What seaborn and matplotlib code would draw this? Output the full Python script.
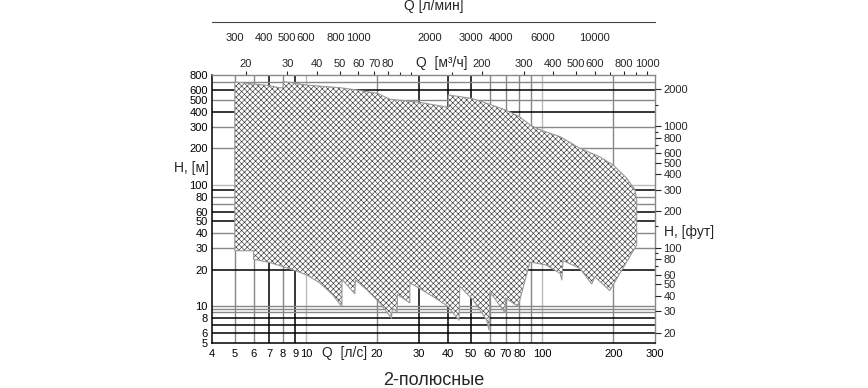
import matplotlib
matplotlib.use('Agg')
import matplotlib.pyplot as plt
import seaborn as sns
import pandas as pd
from matplotlib.ticker import FixedLocator, FixedFormatter, NullFormatter

# envelope of the 2-pole pump range: Q [l/s], H [m], clockwise from top-left
env_q = [5, 6, 7, 7.7, 8.0, 8.0, 9, 10, 13.9, 16.4, 20, 22.7, 30, 40, 40, 50, 60, 70, 80, 90,
         100, 119, 144, 175, 200, 228, 247, 251, 251,
         193, 167, 162, 144, 122.4, 121, 119, 104, 88.7, 79, 70, 69.5, 60, 59.5, 58.2, 51,
         44.8, 44.4, 39.9, 34.6, 30.2, 27.5, 27.5, 24.4, 24.3, 23.2, 23.0, 20.6, 18.1, 16.2,
         16.1, 14.2, 14.2, 13.0, 11.5, 10.1, 9, 8, 7, 6, 6, 5]
env_h = [700, 674, 654, 629, 629, 705, 684, 662, 629, 602, 566, 505, 478, 434, 548, 515, 459, 412, 363, 305,
         279, 249, 200, 170, 145, 113, 90.6, 75, 32,
         13.5, 17.5, 15.3, 20.6, 23.8, 16.5, 18.7, 21.9, 23.2, 10.0, 11.7, 8.9, 13.2, 6.4, 7.7, 11.3,
         14.6, 7.7, 10.0, 12.0, 14.1, 15.6, 10.7, 12.5, 9.0, 9.7, 8.0, 10.6, 13.7, 16.5,
         12.7, 16.7, 9.9, 12.4, 15.5, 18.1, 19.7, 21.2, 23.0, 24.4, 28.7, 28.7]

# grid lines
vgrid_dark = [7, 9, 30, 40, 50]
vgrid_grey = [5, 6, 8, 20, 60, 70, 80, 90, 200]
vgrid_light = [10, 100]
hgrid_dark = [600, 400, 90, 60, 50, 20, 8, 7, 6]
hgrid_grey = [700, 500, 300, 200, 80, 70, 40, 30, 10, 9.5, 9]
hgrid_light = [100]

# tick labels
q_ls_ticks = [4, 5, 6, 7, 8, 9, 10, 20, 30, 40, 50, 60, 70, 80, 100, 200, 300]
h_m_ticks = [5, 6, 8, 10, 20, 30, 40, 50, 60, 80, 100, 200, 300, 400, 500, 600, 800]
h_ft_ticks = [20, 30, 40, 50, 60, 80, 100, 200, 300, 400, 500, 600, 800, 1000, 2000]
h_ft_minor = [70, 90, 150, 700, 900, 1500]
q_m3h_ticks = [20, 30, 40, 50, 60, 70, 80, 200, 300, 400, 500, 600, 800, 1000]
q_m3h_minor = [90, 100, 150, 700, 900]
q_lmin_ticks = [300, 400, 500, 600, 800, 1000, 2000, 3000, 4000, 6000, 10000]
q_lmin_minor = [350, 450, 700, 900, 1500, 5000, 7000, 8000, 9000, 15000]

sns.set_theme(style='white')
plt.rcParams['font.family'] = ['Liberation Sans', 'DejaVu Sans']
plt.rcParams['hatch.linewidth'] = 0.45
plt.rcParams['hatch.color'] = '#3a3a3a'

TICK = 8
LAB = 10

fig = plt.figure(figsize=(8.68, 3.88), dpi=100)
ax = fig.add_axes([0.2442, 0.116, 0.5104, 0.6907])
ax.set_xscale('log')
ax.set_yscale('log')
ax.set_xlim(4, 300)
ax.set_ylim(5, 800)

for v in vgrid_dark:
    ax.axvline(v, color='black', lw=1.1, zorder=1)
for v in vgrid_grey:
    ax.axvline(v, color='#888888', lw=1.0, zorder=1)
for v in vgrid_light:
    ax.axvline(v, color='#bbbbbb', lw=1.0, zorder=1)
for h in hgrid_dark:
    ax.axhline(h, color='black', lw=1.1, zorder=1)
for h in hgrid_grey:
    ax.axhline(h, color='#888888', lw=1.0, zorder=1)
for h in hgrid_light:
    ax.axhline(h, color='#bbbbbb', lw=1.0, zorder=1)

env = pd.DataFrame({'Q': env_q + env_q[:1], 'H': env_h + env_h[:1]})
ax.fill(env['Q'], env['H'], facecolor='white', hatch='xxxxxx', edgecolor='#3a3a3a', lw=0, zorder=2)
sns.lineplot(data=env, x='Q', y='H', sort=False, estimator=None, color='#999999', lw=0.8, ax=ax, zorder=3)

ax.xaxis.set_major_locator(FixedLocator(q_ls_ticks))
ax.xaxis.set_major_formatter(FixedFormatter([str(t) for t in q_ls_ticks]))
ax.xaxis.set_minor_formatter(NullFormatter())
ax.xaxis.set_minor_locator(FixedLocator([]))
ax.yaxis.set_major_locator(FixedLocator(h_m_ticks))
ax.yaxis.set_major_formatter(FixedFormatter([str(t) for t in h_m_ticks]))
ax.yaxis.set_minor_locator(FixedLocator([]))
ax.tick_params(axis='both', length=0, labelsize=TICK, pad=4, colors='black')
ax.tick_params(axis='y', pad=3)
ax.set_xlabel('Q  [л/с]', fontsize=LAB)
ax.xaxis.set_label_coords(0.3, -0.012)
ax.set_ylabel('H, [м]', fontsize=LAB, rotation=0)
ax.yaxis.set_label_coords(-0.047, 0.627)
for s in ['left', 'bottom']:
    ax.spines[s].set_color('black')
    ax.spines[s].set_linewidth(1.1)
for s in ['top', 'right']:
    ax.spines[s].set_color('#888888')
    ax.spines[s].set_linewidth(1.0)

# feet axis on the right
axr = ax.twinx()
axr.set_yscale('log')
axr.set_ylim(5 * 3.28084, 800 * 3.28084)
axr.yaxis.set_major_locator(FixedLocator(h_ft_ticks))
axr.yaxis.set_major_formatter(FixedFormatter([str(t) for t in h_ft_ticks]))
axr.yaxis.set_minor_locator(FixedLocator(h_ft_minor))
axr.yaxis.set_minor_formatter(NullFormatter())
axr.tick_params(axis='y', which='major', length=4, width=0.8, labelsize=TICK, pad=2, direction='out', right=True)
axr.tick_params(axis='y', which='minor', length=2.5, width=0.8, direction='out', right=True)
axr.set_ylabel('H, [фут]', fontsize=LAB, rotation=0)
axr.yaxis.set_label_coords(1.077, 0.44)
for s in axr.spines.values():
    s.set_visible(False)

# m3/h on top
sec = ax.secondary_xaxis('top', functions=(lambda q: q * 3.6, lambda m: m / 3.6))
sec.xaxis.set_major_locator(FixedLocator(q_m3h_ticks))
sec.xaxis.set_major_formatter(FixedFormatter([str(t) for t in q_m3h_ticks]))
sec.xaxis.set_minor_locator(FixedLocator(q_m3h_minor))
sec.xaxis.set_minor_formatter(NullFormatter())
sec.tick_params(axis='x', which='major', length=3, width=0.8, labelsize=TICK, pad=1.5, direction='out')
sec.tick_params(axis='x', which='minor', length=2, width=0.8, direction='out')
sec.spines['top'].set_visible(False)
ax.text(0.518, 1.046, 'Q  [м³/ч]', transform=ax.transAxes, ha='center', va='center', fontsize=LAB)

# l/min axis at the very top
axl = fig.add_axes([0.2442, 0.944, 0.5104, 0.0001])
axl.set_xscale('log')
axl.set_xlim(240, 18000)
axl.set_yticks([])
for s in ['left', 'right', 'top']:
    axl.spines[s].set_visible(False)
axl.spines['bottom'].set_color('#444444')
axl.spines['bottom'].set_linewidth(0.8)
axl.xaxis.set_major_locator(FixedLocator(q_lmin_ticks))
axl.xaxis.set_major_formatter(FixedFormatter([str(t) for t in q_lmin_ticks]))
axl.xaxis.set_minor_locator(FixedLocator(q_lmin_minor))
axl.xaxis.set_minor_formatter(NullFormatter())
axl.tick_params(axis='x', which='major', length=3, width=0.8, labelsize=TICK, pad=5, direction='out', colors='#222222')
axl.tick_params(axis='x', which='minor', length=2, width=0.8, direction='out', colors='#444444')
fig.text(0.4995, 0.984, 'Q [л/мин]', ha='center', va='center', fontsize=LAB)

fig.text(0.4995, 0.02, '2-полюсные', ha='center', va='center', fontsize=13)

fig.savefig('out.png', dpi=100)
